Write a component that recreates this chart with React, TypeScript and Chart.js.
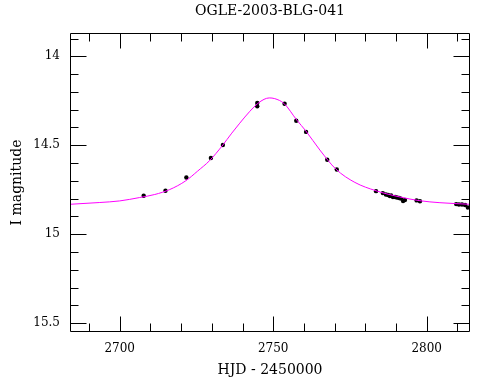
import React, { useEffect, useRef } from "react";
import { Chart, registerables } from "chart.js";

Chart.register(...registerables);

const TITLE = "OGLE-2003-BLG-041";
const X_TITLE = "HJD - 2450000";
const Y_TITLE = "I magnitude";

const X_MIN = 2683.8;
const X_MAX = 2814.1;
const Y_MIN = 13.869;
const Y_MAX = 15.55;

const xTickLabels = [2700, 2750, 2800];
const yTickLabels = [14, 14.5, 15, 15.5];
const xMinorTicks = [2690, 2700, 2710, 2720, 2730, 2740, 2750, 2760, 2770, 2780, 2790, 2800, 2810];
const yMinorTicks = [13.9, 14, 14.1, 14.2, 14.3, 14.4, 14.5, 14.6, 14.7, 14.8, 14.9, 15, 15.1, 15.2, 15.3, 15.4, 15.5];

// observed photometry (HJD-2450000, I mag)
const obsDays = [
  2707.8, 2714.9, 2721.7, 2729.7, 2733.6, 2744.8, 2744.8, 2753.7, 2757.5, 2760.7,
  2767.6, 2770.7, 2783.5, 2785.7, 2786.7, 2787.4, 2788.0, 2788.4, 2789.0, 2789.7,
  2790.3, 2791.0, 2791.6, 2792.3, 2792.9, 2796.7, 2797.8, 2809.6, 2810.5, 2811.5,
  2812.5, 2813.4,
];
const obsMags = [
  14.784, 14.756, 14.681, 14.572, 14.499, 14.262, 14.281, 14.267, 14.362, 14.425,
  14.582, 14.636, 14.758, 14.769, 14.777, 14.780, 14.786, 14.783, 14.791, 14.791,
  14.794, 14.797, 14.800, 14.814, 14.808, 14.810, 14.815, 14.831, 14.833, 14.833,
  14.836, 14.850,
];

// model curve
const modelDays = [
  2683.8, 2693.5, 2700.0, 2706.5, 2711.4, 2716.3, 2721.5, 2725.4, 2729.3, 2733.3,
  2736.5, 2739.1, 2742.4, 2745.0, 2747.0, 2748.7, 2750.5, 2753.5, 2757.7, 2760.6,
  2765.2, 2770.4, 2776.6, 2783.5, 2791.3, 2797.8, 2804.3, 2814.1,
];
const modelMags = [
  14.832, 14.822, 14.813, 14.794, 14.777, 14.749, 14.700, 14.645, 14.586, 14.505,
  14.432, 14.376, 14.309, 14.265, 14.242, 14.234, 14.238, 14.265, 14.359, 14.419,
  14.527, 14.634, 14.709, 14.756, 14.791, 14.812, 14.823, 14.832,
];

const FONT = "'DejaVu Serif', 'Liberation Serif', serif";

const framePlugin = {
  id: "frameTicks",
  afterDatasetsDraw(chart: any) {
    const { ctx, chartArea, scales } = chart;
    const { left, right, top, bottom } = chartArea;
    const xs = scales.x;
    const ys = scales.y;
    ctx.save();
    ctx.strokeStyle = "#000";
    ctx.lineWidth = 1;
    ctx.beginPath();
    const L = Math.round(left) + 0.5;
    const R = Math.round(right) - 0.5;
    const T = Math.round(top) + 0.5;
    const B = Math.round(bottom) - 0.5;
    ctx.rect(L, T, R - L, B - T);
    for (const v of xMinorTicks) {
      const px = Math.round(xs.getPixelForValue(v)) + 0.5;
      const len = xTickLabels.includes(v) ? 15 : 8;
      ctx.moveTo(px, B);
      ctx.lineTo(px, B - len);
      ctx.moveTo(px, T);
      ctx.lineTo(px, T + len);
    }
    for (const v of yMinorTicks) {
      const py = Math.round(ys.getPixelForValue(v)) + 0.5;
      const len = yTickLabels.some((t) => Math.abs(t - v) < 1e-6) ? 16 : 8;
      ctx.moveTo(L, py);
      ctx.lineTo(L + len, py);
      ctx.moveTo(R, py);
      ctx.lineTo(R - len, py);
    }
    ctx.stroke();
    // title centred over the plot frame
    ctx.fillStyle = "#000";
    ctx.font = `14px ${FONT}`;
    ctx.textAlign = "center";
    ctx.textBaseline = "middle";
    ctx.fillText(TITLE, (left + right) / 2, 11);
    ctx.restore();
  },
};

export default function App() {
  const ref = useRef<HTMLCanvasElement | null>(null);
  useEffect(() => {
    if (!ref.current) return;
    const chart = new Chart(ref.current, {
      type: "scatter",
      data: {
        datasets: [
          {
            type: "line",
            data: modelDays.map((d, i) => ({ x: d, y: modelMags[i] })),
            borderColor: "#ff00ff",
            borderWidth: 1,
            pointRadius: 0,
            cubicInterpolationMode: "monotone",
            fill: false,
          } as any,
          {
            type: "scatter",
            data: obsDays.map((d, i) => ({ x: d, y: obsMags[i] })),
            backgroundColor: "#000",
            borderColor: "#000",
            pointRadius: 2.2,
            pointBorderWidth: 0,
          },
        ],
      },
      options: {
        responsive: false,
        animation: false,
        devicePixelRatio: 1,
        layout: { padding: { left: 0, right: 20, top: 33, bottom: 0 } },
        plugins: {
          legend: { display: false },
          tooltip: { enabled: false },
          title: { display: false },
        },
        scales: {
          x: {
            type: "linear",
            min: X_MIN,
            max: X_MAX,
            grid: { display: false, drawTicks: false },
            border: { display: false },
            afterBuildTicks: (s: any) => {
              s.ticks = xTickLabels.map((v) => ({ value: v }));
            },
            afterFit: (s: any) => {
              s.height = 48;
            },
            ticks: {
              color: "#000",
              padding: 10,
              maxRotation: 0,
              font: { family: FONT, size: 12 },
              callback: (v: any) => String(v),
            },
            title: {
              display: true,
              text: X_TITLE,
              color: "#000",
              font: { family: FONT, size: 14 },
              padding: { top: 0, bottom: 1 },
            },
          },
          y: {
            type: "linear",
            reverse: true,
            min: Y_MIN,
            max: Y_MAX,
            grid: { display: false, drawTicks: false },
            border: { display: false },
            afterBuildTicks: (s: any) => {
              s.ticks = yTickLabels.map((v) => ({ value: v }));
            },
            afterFit: (s: any) => {
              s.width = 70;
            },
            ticks: {
              color: "#000",
              padding: 10,
              font: { family: FONT, size: 12 },
              callback: (v: any) => String(v),
            },
            title: {
              display: true,
              text: Y_TITLE,
              color: "#000",
              font: { family: FONT, size: 14 },
              padding: { top: 9, bottom: 0 },
            },
          },
        },
      },
      plugins: [framePlugin],
    } as any);
    return () => chart.destroy();
  }, []);
  return (
    <div style={{ position: "absolute", left: 0, top: 0, background: "#fff" }}>
      <canvas ref={ref} width={490} height={380} style={{ display: "block" }} />
    </div>
  );
}
